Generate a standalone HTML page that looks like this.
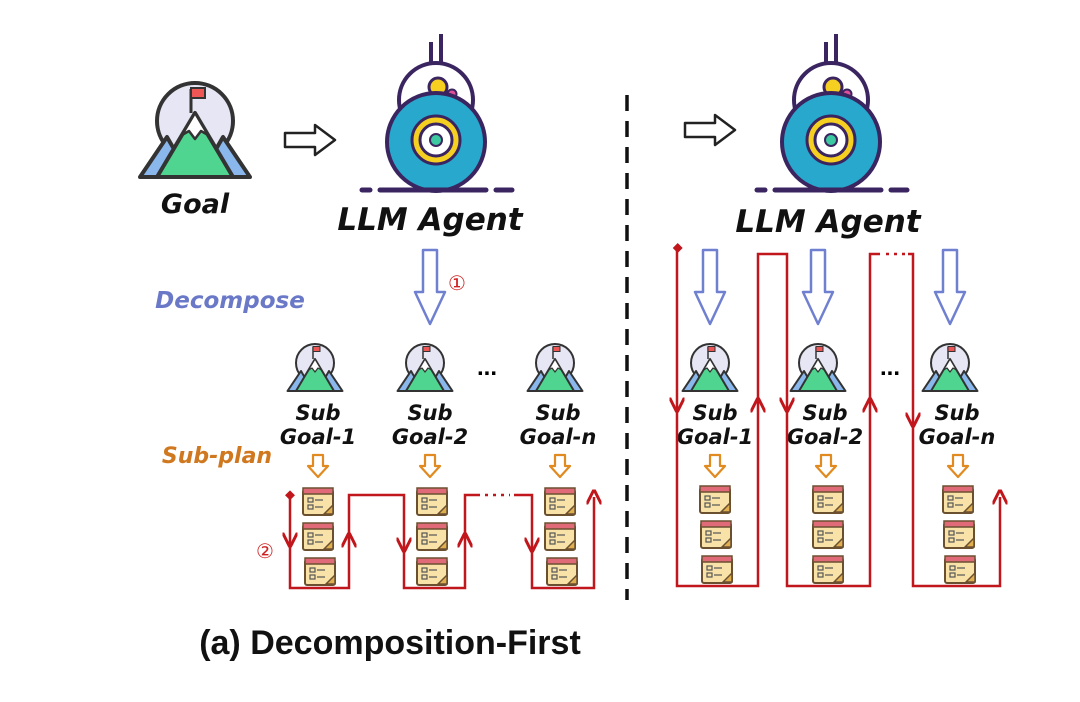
<!DOCTYPE html>
<html><head><meta charset="utf-8"><style>
html,body{margin:0;padding:0;background:#fff;}
svg{display:block;}
.h{font-family:"DejaVu Sans","Liberation Sans",sans-serif;font-style:oblique;font-weight:bold;fill:#111;}
</style></head><body>
<svg width="1080" height="702" viewBox="0 0 1080 702" xmlns="http://www.w3.org/2000/svg">
<defs>
<g id="mtn">
 <circle cx="0" cy="-14" r="38" fill="#e6e6f4" stroke="#333" stroke-width="4"/>
 <line x1="-4" y1="-22" x2="-4" y2="-46" stroke="#333" stroke-width="3"/>
 <rect x="-4" y="-47" width="14" height="10" fill="#e55" stroke="#333" stroke-width="2"/>
 <polygon points="-55,42 -28,2 -5,42" fill="#8ab8ec" stroke="#333" stroke-width="4" stroke-linejoin="round"/>
 <polygon points="55,42 28,2 5,42" fill="#8ab8ec" stroke="#333" stroke-width="4" stroke-linejoin="round"/>
 <polygon points="-38,42 0,-22 38,42" fill="#4fd58f" stroke="#333" stroke-width="4" stroke-linejoin="round"/>
 <polygon points="-13,0 0,-22 13,0 6,-4 0,4 -6,-4" fill="#fff" stroke="#333" stroke-width="2.5" stroke-linejoin="round"/>
</g>
<g id="robot">
 <line x1="-5" y1="-76" x2="-5" y2="-100" stroke="#3a2560" stroke-width="4"/>
 <line x1="5" y1="-76" x2="5" y2="-108" stroke="#3a2560" stroke-width="4"/>
 <circle cx="0" cy="-42" r="37" fill="#fff" stroke="#3a2560" stroke-width="4"/>
 <circle cx="2" cy="-55" r="9" fill="#f5d020" stroke="#3a2560" stroke-width="3"/>
 <circle cx="16" cy="-48" r="4.5" fill="#e0509a" stroke="#3a2560" stroke-width="2"/>
 <circle cx="0" cy="0" r="49" fill="#27a8cc" stroke="#3a2560" stroke-width="4"/>
 <circle cx="0" cy="-2" r="24" fill="#f5d020" stroke="#3a2560" stroke-width="3"/>
 <circle cx="0" cy="-2" r="16" fill="#fff" stroke="#3a2560" stroke-width="3"/>
 <circle cx="0" cy="-2" r="6" fill="#3cc8a0" stroke="#3a2560" stroke-width="2"/>
 <line x1="-74" y1="48" x2="-66" y2="48" stroke="#3a2560" stroke-width="5" stroke-linecap="round"/>
 <line x1="-56" y1="48" x2="50" y2="48" stroke="#3a2560" stroke-width="5" stroke-linecap="round"/>
 <line x1="60" y1="48" x2="76" y2="48" stroke="#3a2560" stroke-width="5" stroke-linecap="round"/>
</g>
<g id="plan">
 <rect x="-15" y="-12" width="30" height="25" rx="2" fill="#f8e2a8" stroke="#6b5030" stroke-width="2"/>
 <rect x="-15" y="-14" width="30" height="6" fill="#e06a78" stroke="#6b5030" stroke-width="1.5"/>
 <rect x="-10" y="-4" width="5" height="4" fill="none" stroke="#555" stroke-width="1.2"/>
 <rect x="-10" y="3" width="5" height="4" fill="none" stroke="#555" stroke-width="1.2"/>
 <line x1="-3" y1="-2" x2="5" y2="-2" stroke="#555" stroke-width="1.2"/>
 <line x1="-3" y1="5" x2="5" y2="5" stroke="#555" stroke-width="1.2"/>
 <polygon points="6,12 15,3 15,12" fill="#e0b050" stroke="#6b5030" stroke-width="1.5"/>
</g>
<g id="barrow">
 <path d="M-7,-37 L7,-37 L7,5 L15,5 L0,37 L-15,5 L-7,5Z" fill="#fff" stroke="#7080d0" stroke-width="2.5" stroke-linejoin="round"/>
</g>
<g id="oarrow">
 <path d="M-5,-11 L5,-11 L5,0 L10,0 L0,11 L-10,0 L-5,0Z" fill="#fff" stroke="#e08a20" stroke-width="2.2" stroke-linejoin="round"/>
</g>
<g id="rarrow">
 <path d="M-25,-7 L5,-7 L5,-15 L25,0 L5,15 L5,7 L-25,7Z" fill="#fff" stroke="#222" stroke-width="2.5" stroke-linejoin="round"/>
</g>
<marker id="ah" viewBox="0 0 10 10" refX="5" refY="5" markerWidth="6" markerHeight="6" orient="auto"><path d="M0,0 L10,5 L0,10" fill="none" stroke="#c0161c" stroke-width="2"/></marker>
</defs>

<use href="#mtn" x="195" y="135"/>
<text x="195" y="213" class="h" font-size="27" text-anchor="middle">Goal</text>
<use href="#rarrow" x="310" y="140"/>
<use href="#robot" x="436" y="142"/>
<text x="430" y="230" class="h" font-size="31" text-anchor="middle">LLM Agent</text>
<use href="#barrow" x="430" y="287"/>
<text x="457" y="290" font-family="DejaVu Sans,sans-serif" font-size="20" fill="#d02020" text-anchor="middle">①</text>
<text x="230" y="308" class="h" font-size="23" text-anchor="middle" style="fill:#6a78c8">Decompose</text>

<g transform="translate(315,370) scale(0.5)"><use href="#mtn"/></g>
<g transform="translate(425,370) scale(0.5)"><use href="#mtn"/></g>
<g transform="translate(555,370) scale(0.5)"><use href="#mtn"/></g>
<text x="487" y="375" font-family="Liberation Sans" font-weight="bold" font-size="24" text-anchor="middle">...</text>
<g class="h" font-size="21" text-anchor="middle">
<text x="318" y="420">Sub</text><text x="318" y="444">Goal-1</text>
<text x="430" y="420">Sub</text><text x="430" y="444">Goal-2</text>
<text x="558" y="420">Sub</text><text x="558" y="444">Goal-n</text>
</g>
<text x="217" y="463" class="h" font-size="22" text-anchor="middle" style="fill:#d07820">Sub-plan</text>
<use href="#oarrow" x="318" y="466"/><use href="#oarrow" x="430" y="466"/><use href="#oarrow" x="560" y="466"/>
<g>
<use href="#plan" x="318" y="502"/><use href="#plan" x="318" y="537"/><use href="#plan" x="320" y="572"/>
<use href="#plan" x="432" y="502"/><use href="#plan" x="432" y="537"/><use href="#plan" x="432" y="572"/>
<use href="#plan" x="560" y="502"/><use href="#plan" x="560" y="537"/><use href="#plan" x="562" y="572"/>
</g>
<g fill="none" stroke="#c0161c" stroke-width="2.5">
<polyline points="290,496 290,540 "  marker-end="url(#ah)"/>
<polyline points="290,540 290,588 349,588 349,540" marker-end="url(#ah)"/>
<polyline points="349,540 349,495 404,495 404,545" marker-end="url(#ah)"/>
<polyline points="404,545 404,588 465,588 465,540" marker-end="url(#ah)"/>
<polyline points="465,540 465,495 480,495"/>
<line x1="485" y1="495" x2="510" y2="495" stroke-dasharray="3,5"/>
<polyline points="514,495 532,495 532,545" marker-end="url(#ah)"/>
<polyline points="532,545 532,588 594,588 594,497" marker-end="url(#ah)"/>
</g>
<rect x="286" y="492" width="7" height="7" fill="#c0161c" transform="rotate(45 290 496)"/>
<text x="265" y="558" font-family="DejaVu Sans,sans-serif" font-size="20" fill="#d02020" text-anchor="middle">②</text>
<text x="390" y="654" font-family="Liberation Sans" font-weight="bold" font-size="34" fill="#111" text-anchor="middle">(a) Decomposition-First</text>

<line x1="627" y1="95" x2="627" y2="600" stroke="#111" stroke-width="3.5" stroke-dasharray="16,10"/>

<use href="#rarrow" x="710" y="130"/>
<use href="#robot" x="831" y="142"/>
<text x="828" y="232" class="h" font-size="31" text-anchor="middle">LLM Agent</text>
<use href="#barrow" x="710" y="287"/><use href="#barrow" x="818" y="287"/><use href="#barrow" x="950" y="287"/>
<g transform="translate(710,370) scale(0.5)"><use href="#mtn"/></g>
<g transform="translate(818,370) scale(0.5)"><use href="#mtn"/></g>
<g transform="translate(950,370) scale(0.5)"><use href="#mtn"/></g>
<text x="890" y="375" font-family="Liberation Sans" font-weight="bold" font-size="24" text-anchor="middle">...</text>
<g class="h" font-size="21" text-anchor="middle">
<text x="715" y="420">Sub</text><text x="715" y="444">Goal-1</text>
<text x="825" y="420">Sub</text><text x="825" y="444">Goal-2</text>
<text x="957" y="420">Sub</text><text x="957" y="444">Goal-n</text>
</g>
<use href="#oarrow" x="715" y="466"/><use href="#oarrow" x="826" y="466"/><use href="#oarrow" x="958" y="466"/>
<use href="#plan" x="715" y="500"/><use href="#plan" x="716" y="535"/><use href="#plan" x="717" y="570"/>
<use href="#plan" x="828" y="500"/><use href="#plan" x="828" y="535"/><use href="#plan" x="828" y="570"/>
<use href="#plan" x="958" y="500"/><use href="#plan" x="959" y="535"/><use href="#plan" x="960" y="570"/>
<g fill="none" stroke="#c0161c" stroke-width="2.5">
<polyline points="677,250 677,405" marker-end="url(#ah)"/>
<polyline points="677,405 677,586 758,586 758,405" marker-end="url(#ah)"/>
<polyline points="758,405 758,254 787,254 787,405" marker-end="url(#ah)"/>
<polyline points="787,405 787,586 870,586 870,405" marker-end="url(#ah)"/>
<polyline points="870,405 870,254 880,254"/>
<line x1="886" y1="254" x2="905" y2="254" stroke-dasharray="3,5"/>
<polyline points="908,254 913,254 913,420" marker-end="url(#ah)"/>
<polyline points="913,420 913,586 1000,586 1000,497" marker-end="url(#ah)"/>
</g>
<rect x="674" y="244" width="7" height="7" fill="#c0161c" transform="rotate(45 677 248)"/>
</svg>
</body></html>
